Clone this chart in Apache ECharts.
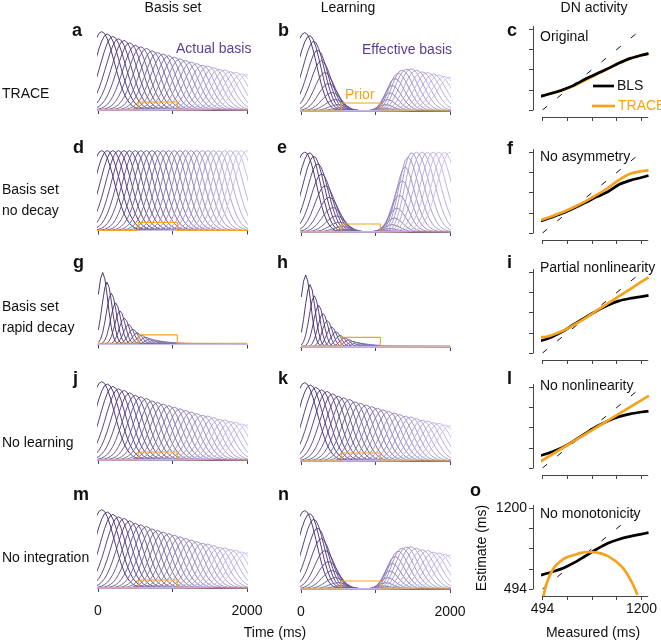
<!DOCTYPE html>
<html>
<head>
<meta charset="utf-8">
<script src="https://cdn.jsdelivr.net/npm/echarts@6/dist/echarts.min.js"></script>
<style>
  html, body { margin: 0; padding: 0; background: #fff; }
  #chart { width: 661px; height: 641px; }
</style>
</head>
<body>
<div id="chart"></div>
<script>
// ---------- basis functions (columns 1 and 2) ----------
// one bump, read every half lattice step out from its centre
const wideShape = [1, 0.976, 0.907, 0.803, 0.677, 0.544, 0.416, 0.303, 0.210, 0.139, 0.087, 0.052, 0.030, 0.016, 0.008];
const narrowShape = [1, 0.913, 0.695, 0.441, 0.233, 0.103, 0.038, 0.012, 0.003];

// lattice of curve centres (ms)
const basisStart = 50, basisStep = 75;   // 27 curves, 50 .. 2000
const rapidStart = 63, rapidStep = 58;   // 34 curves

// peak heights of the actual basis (with decay)
const decayAmps = [0.98, 0.95, 0.92, 0.89, 0.87, 0.84, 0.81, 0.79, 0.77, 0.74, 0.72, 0.70, 0.68, 0.66,
  0.64, 0.62, 0.60, 0.58, 0.56, 0.55, 0.53, 0.51, 0.50, 0.48, 0.47, 0.45, 0.44];
// no decay
const flatAmps = [1, 1, 1, 1, 1, 1, 1, 1, 1, 1, 1, 1, 1, 1, 1, 1, 1, 1, 1, 1, 1, 1, 1, 1, 1, 1, 1];
// rapid decay
const rapidAmps = [0.9, 0.78, 0.64, 0.52, 0.42, 0.33, 0.25, 0.19, 0.145, 0.115, 0.09, 0.07, 0.056, 0.045,
  0.037, 0.03, 0.025, 0.021, 0.018, 0.016, 0.014, 0.013, 0.012, 0.011, 0.010, 0.010, 0.009, 0.009,
  0.008, 0.008, 0.008, 0.008, 0.007, 0.007];

// learned gain on the basis, every 37.5 ms from -25 to 2075 ms
const gainTrace = [1, 1, 1, 1, 0.99, 0.97, 0.93, 0.87, 0.8, 0.71, 0.62, 0.52, 0.43, 0.34, 0.26, 0.19, 0.13,
  0.085, 0.055, 0.033, 0.02, 0.012, 0.007, 0.005, 0.005, 0.009, 0.018, 0.04, 0.08, 0.15, 0.25, 0.37, 0.5,
  0.62, 0.72, 0.8, 0.86, 0.9, 0.93, 0.95, 0.96, 0.96, 0.96, 0.96, 0.96, 0.96, 0.96, 0.96, 0.96, 0.96,
  0.96, 0.96, 0.96, 0.96, 0.96, 0.96, 0.96];
const gainNoDecay = [1, 1, 1, 1, 0.99, 0.97, 0.93, 0.87, 0.8, 0.72, 0.63, 0.54, 0.45, 0.37, 0.29, 0.22, 0.16,
  0.11, 0.075, 0.05, 0.03, 0.018, 0.01, 0.006, 0.004, 0.004, 0.006, 0.01, 0.02, 0.04, 0.07, 0.12, 0.2,
  0.3, 0.42, 0.55, 0.68, 0.8, 0.9, 0.96, 0.99, 1, 1, 1, 1, 1, 1, 1, 1, 1, 1, 1, 1, 1, 1, 1, 1];

// prior (uniform box)
const priorTimes = [0, 540, 540, 1065, 1065, 2000];
const priorLevel = [0, 0, 0.1, 0.1, 0, 0];
const priorLevelRapid = [0.015, 0.015, 0.12, 0.12, 0.015, 0.015];

// ---------- DN activity (column 3) ----------
const measured = [430, 494, 560, 640, 720, 800, 880, 960, 1040, 1120, 1200, 1250];
const blsOriginal = [605, 618, 640, 672, 712, 765, 812, 856, 905, 946, 973, 988];
const traceOriginal = [608, 620, 642, 670, 706, 756, 806, 856, 905, 945, 975, 990];
const blsNoAsym = [588, 604, 632, 668, 712, 760, 810, 855, 918, 955, 980, 997];
const traceNoAsym = [597, 612, 640, 677, 722, 771, 827, 888, 960, 1012, 1035, 1042];
const blsPartial = [592, 605, 635, 683, 746, 806, 862, 912, 950, 972, 988, 998];
const tracePartial = [640, 633, 650, 688, 741, 800, 864, 928, 991, 1054, 1118, 1157];
const blsNoNonlin = [591, 608, 634, 676, 733, 796, 857, 906, 944, 968, 984, 992];
const traceNoNonlinX = [425, 1253];
const traceNoNonlinY = [510, 1128];
const blsNoMono = [596, 620, 643, 676, 725, 783, 842, 894, 930, 955, 975, 987];
const traceNoMonoX = [501, 520, 547, 580, 618, 660, 719, 770, 814, 860, 910, 960, 1005, 1040, 1076, 1110, 1147, 1171];
const traceNoMonoY = [433, 530, 616, 688, 733, 768, 791, 810, 818, 816, 806, 782, 747, 712, 666, 600, 514, 441];
const identity = [494, 1225];
const dnTicks = [494, 670.5, 847, 1023.5, 1200];
const dnLabels = [494, 1200];
const timeTicks = [0, 2000];

// ---------- layout ----------
const FONT = 'Liberation Sans, Arial, Helvetica, sans-serif';
const ORANGE = '#f7a21a';
const PURPLE_TEXT = '#5b3d94';
const col1Left = 98, col2Left = 301, basisW = 149;
const baseCol1 = [110, 230.5, 344.5, 460, 588];
const baseCol2 = [111, 232, 347, 461, 589];
const dnLeft = 542.5, dnW = 105.3, dnH = 83.5;
const dnBottom = [110, 233, 353, 468, 589];

const grids = [], xAxes = [], yAxes = [], series = [];

function purple(i, n) {
  const f = n > 1 ? i / (n - 1) : 0;
  const a = [58, 32, 102], b = [203, 190, 238];
  return 'rgb(' + a.map((v, j) => Math.round(v + (b[j] - v) * f)).join(',') + ')';
}
const plain = v => String(v);

function addBasisPanel(left, base, bottomRow, set) {
  const g = grids.length;
  grids.push({ left: left, top: base - 80, width: basisW, height: 80, containLabel: false, outerBoundsMode: 'none' });
  xAxes.push({
    gridIndex: g, type: 'value', min: 0, max: 2000, interval: 1000, offset: 9,
    axisLine: { show: true, lineStyle: { color: '#444', width: 1 } },
    axisTick: { show: true, length: 4, lineStyle: { color: '#444' } },
    axisLabel: { show: bottomRow, customValues: timeTicks, formatter: plain, fontSize: 14, color: '#111', margin: 7, fontFamily: FONT },
    splitLine: { show: false }
  });
  yAxes.push({ gridIndex: g, type: 'value', min: 0, max: 1, show: false, splitLine: { show: false } });

  const half = set.step / 2;
  const n = set.amps.length;
  const nPts = Math.ceil((2000 + half - (set.start - 2 * half)) / half) + 1;
  for (let i = 0; i < n; i++) {
    const data = [];
    for (let k = 0; k < nPts; k++) {
      const t = set.start + (k - 2) * half;
      const m = Math.abs(k - 2 - 2 * i);
      const s = m < set.shape.length ? set.shape[m] : 0;
      const gk = set.gain ? set.gain[Math.min(k, set.gain.length - 1)] : 1;
      data.push([t, set.amps[i] * s * gk]);
    }
    series.push({
      type: 'line', xAxisIndex: g, yAxisIndex: g, data: data, symbol: 'none', silent: true,
      lineStyle: { width: 0.9, color: purple(i, n) }, z: 2
    });
  }
  series.push({
    type: 'line', xAxisIndex: g, yAxisIndex: g, symbol: 'none', silent: true, z: 3,
    data: priorTimes.map((t, j) => [t, set.prior[j]]),
    lineStyle: { width: 1.1, color: ORANGE }
  });
}

function addDnPanel(row, bls, traceX, traceY, blsOnTop) {
  const g = grids.length;
  const last = row === 4;
  grids.push({ left: dnLeft, top: dnBottom[row] - dnH, width: dnW, height: dnH, containLabel: false, outerBoundsMode: 'none' });
  const axisCommon = {
    axisLine: { show: true, lineStyle: { color: '#444', width: 1 } },
    axisTick: { show: true, length: 4, customValues: dnTicks, lineStyle: { color: '#444' } },
    axisLabel: { show: last, customValues: dnLabels, formatter: plain, fontSize: 14, color: '#111', margin: 6, fontFamily: FONT },
    splitLine: { show: false }
  };
  xAxes.push(Object.assign({ gridIndex: g, type: 'value', min: 494, max: 1245, offset: 7 }, axisCommon));
  yAxes.push(Object.assign({ gridIndex: g, type: 'value', min: 494, max: 1225, offset: 9.5 }, axisCommon));
  series.push({
    type: 'line', xAxisIndex: g, yAxisIndex: g, symbol: 'none', silent: true, z: 2,
    data: identity.map(v => [v, v]),
    lineStyle: { width: 1, color: '#111', type: [6, 13] }
  });
  const blsS = {
    type: 'line', xAxisIndex: g, yAxisIndex: g, symbol: 'none', silent: true, clip: false, smooth: 0.3,
    z: blsOnTop ? 5 : 3, data: measured.map((x, j) => [x, bls[j]]),
    lineStyle: { width: 2.7, color: '#000' }
  };
  const traceS = {
    type: 'line', xAxisIndex: g, yAxisIndex: g, symbol: 'none', silent: true, clip: false, smooth: 0.3,
    z: 4, data: traceX.map((x, j) => [x, traceY[j]]),
    lineStyle: { width: 2.7, color: ORANGE }
  };
  series.push(blsS, traceS);
}

const actual = { start: basisStart, step: basisStep, amps: decayAmps, shape: wideShape, prior: priorLevel };
const flat = { start: basisStart, step: basisStep, amps: flatAmps, shape: wideShape, prior: priorLevel };
const rapid = { start: rapidStart, step: rapidStep, amps: rapidAmps, shape: narrowShape, prior: priorLevelRapid };
const effective = Object.assign({}, actual, { gain: gainTrace });
const effectiveFlat = Object.assign({}, flat, { gain: gainNoDecay });

// rows: TRACE, no decay, rapid decay, no learning, no integration
addBasisPanel(col1Left, baseCol1[0], false, actual);
addBasisPanel(col2Left, baseCol2[0], false, effective);
addDnPanel(0, blsOriginal, measured, traceOriginal, true);
addBasisPanel(col1Left, baseCol1[1], false, flat);
addBasisPanel(col2Left, baseCol2[1], false, effectiveFlat);
addDnPanel(1, blsNoAsym, measured, traceNoAsym, false);
addBasisPanel(col1Left, baseCol1[2], false, rapid);
addBasisPanel(col2Left, baseCol2[2], false, rapid);
addDnPanel(2, blsPartial, measured, tracePartial, false);
addBasisPanel(col1Left, baseCol1[3], false, actual);
addBasisPanel(col2Left, baseCol2[3], false, actual);
addDnPanel(3, blsNoNonlin, traceNoNonlinX, traceNoNonlinY, false);
addBasisPanel(col1Left, baseCol1[4], true, actual);
addBasisPanel(col2Left, baseCol2[4], true, effective);
addDnPanel(4, blsNoMono, traceNoMonoX, traceNoMonoY, false);

// ---------- text ----------
function txt(s, x, y, opt) {
  opt = opt || {};
  return {
    type: 'text', x: x, y: y, rotation: opt.rotation || 0, z: 10, silent: true,
    style: {
      text: s, fill: opt.fill || '#111', align: opt.align || 'left', verticalAlign: 'middle',
      font: (opt.bold ? 'bold ' : '') + (opt.size || 14) + 'px ' + FONT
    }
  };
}
const letters = [['a', 72, 31], ['b', 278, 31], ['c', 507, 31],
  ['d', 73, 148], ['e', 277, 148], ['f', 507, 149],
  ['g', 73, 263], ['h', 277, 263], ['i', 507, 263],
  ['j', 73, 379], ['k', 278, 379], ['l', 507, 379],
  ['m', 73, 495], ['n', 278, 495], ['o', 470, 491]];

const graphic = [
  txt('Basis set', 173, 8, { align: 'center' }),
  txt('Learning', 348, 8, { align: 'center' }),
  txt('DN activity', 594, 8, { align: 'center' }),
  txt('TRACE', 2, 94),
  txt('Basis set', 2, 190), txt('no decay', 2, 211),
  txt('Basis set', 2, 307), txt('rapid decay', 2, 328),
  txt('No learning', 2, 443),
  txt('No integration', 2, 558),
  txt('Actual basis', 176, 49, { fill: PURPLE_TEXT }),
  txt('Effective basis', 362, 50, { fill: PURPLE_TEXT }),
  txt('Prior', 345, 95, { fill: ORANGE }),
  txt('Original', 540, 37),
  txt('No asymmetry', 540, 157),
  txt('Partial nonlinearity', 540, 268),
  txt('No nonlinearity', 540, 386),
  txt('No monotonicity', 540, 514),
  txt('Time (ms)', 275, 633, { align: 'center' }),
  txt('Measured (ms)', 593, 633, { align: 'center' }),
  txt('Estimate (ms)', 482, 548, { align: 'center', rotation: Math.PI / 2 }),
  txt('BLS', 617, 86),
  txt('TRACE', 618, 106, { fill: ORANGE }),
  { type: 'line', z: 10, silent: true, shape: { x1: 593, y1: 86, x2: 614, y2: 86 }, style: { stroke: '#000', lineWidth: 2.7 } },
  { type: 'line', z: 10, silent: true, shape: { x1: 592, y1: 106, x2: 615, y2: 106 }, style: { stroke: ORANGE, lineWidth: 2.7 } }
].concat(letters.map(l => txt(l[0], l[1], l[2], { bold: true, size: 18 })));

const chart = echarts.init(document.getElementById('chart'), null, { renderer: 'canvas' });
chart.setOption({
  backgroundColor: '#fff',
  animation: false,
  grid: grids,
  xAxis: xAxes,
  yAxis: yAxes,
  series: series,
  graphic: graphic
});
</script>
</body>
</html>
